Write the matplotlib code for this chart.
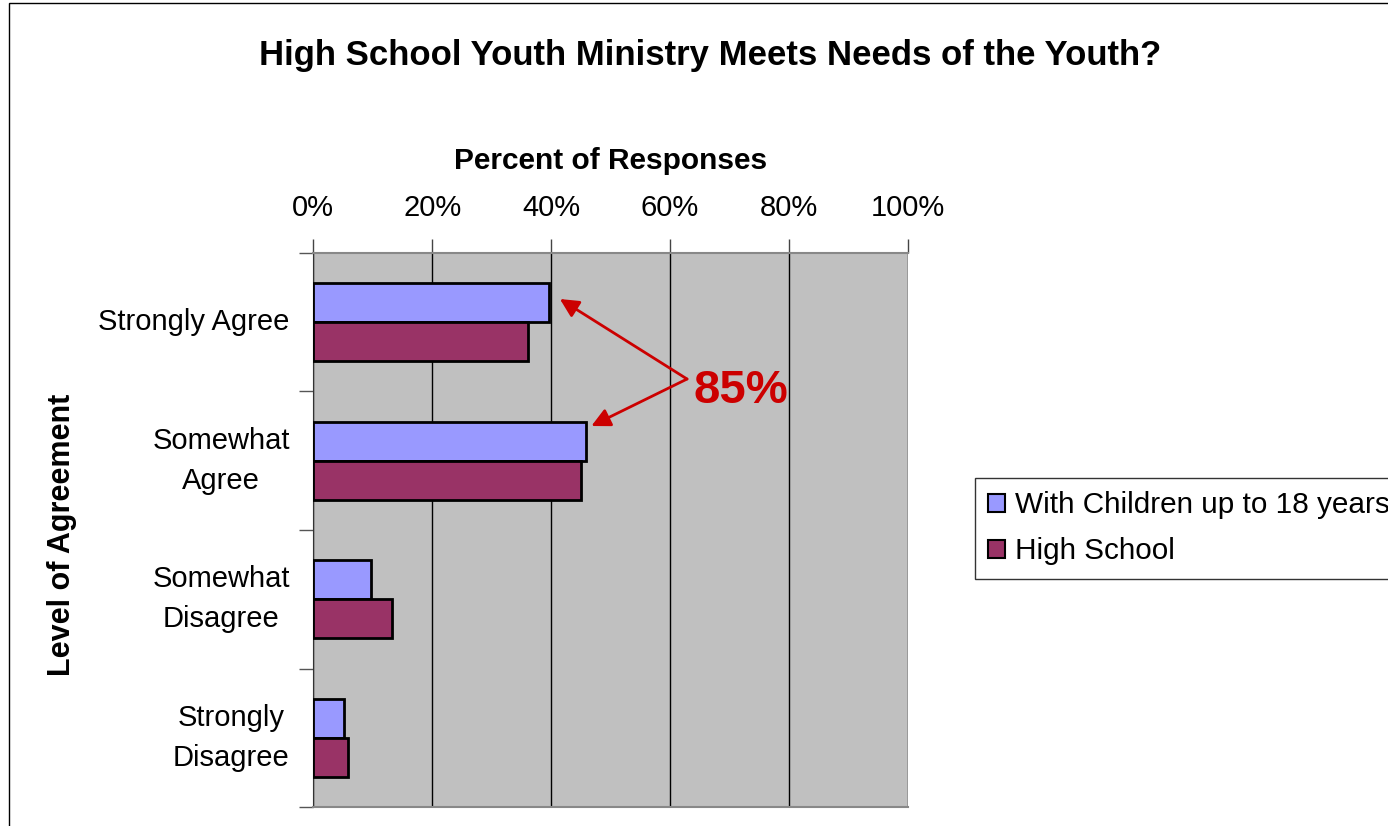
import matplotlib
matplotlib.use("Agg")
import matplotlib.pyplot as plt
import numpy as np
from matplotlib.patches import Rectangle, Patch

categories = ["Strongly Agree", "Somewhat\nAgree", "Somewhat\nDisagree", "Strongly\nDisagree"]
series_names = ["With Children up to 18 years", "High School"]
with_children = [39.7, 45.9, 9.7, 5.1]
high_school = [36.2, 45.1, 13.3, 5.9]
x_ticks = [0, 20, 40, 60, 80, 100]
x_tick_labels = ["0%", "20%", "40%", "60%", "80%", "100%"]
colors = ["#9999FF", "#993366"]

plt.rcParams['font.family'] = ['Liberation Sans', 'DejaVu Sans']

fig = plt.figure(figsize=(13.88, 8.26), dpi=100)
W, H = 1388, 826
ax = fig.add_axes([313.3 / W, 1 - 807.3 / H, (907.5 - 313.3) / W, (807.3 - 252.7) / H])
ax.set_facecolor("#C0C0C0")

y = np.arange(len(categories))
bh = 0.281
ax.barh(y - bh / 2, with_children, height=bh, color=colors[0], edgecolor="black", linewidth=2, zorder=3)
ax.barh(y + bh / 2, high_school, height=bh, color=colors[1], edgecolor="black", linewidth=2, zorder=3)

ax.set_xlim(0, 100)
ax.set_ylim(len(categories) - 0.5, -0.5)
ax.xaxis.tick_top()
ax.xaxis.set_label_position("top")
ax.set_xticks(x_ticks)
ax.set_xticklabels(x_tick_labels, fontsize=21)
ax.tick_params(axis="x", direction="out", length=10, width=1, pad=12, color="#444444")
ax.grid(axis="x", color="black", linewidth=1, zorder=1)
ax.set_xlabel("Percent of Responses", fontsize=21.5, fontweight="bold", labelpad=18)

ax.set_yticks(y)
ax.set_yticklabels(categories, fontsize=21, multialignment="center", linespacing=1.55)
for lab in ax.get_yticklabels():
    lab.set_verticalalignment("center")
ax.tick_params(axis="y", which="major", length=0, pad=17)
ax.set_yticks(np.arange(-0.5, len(categories) + 0.5, 1), minor=True)
ax.tick_params(axis="y", which="minor", direction="out", length=10, width=1, color="#555555")

ax.spines["left"].set_color("#333333")
for s in ["top", "bottom"]:
    ax.spines[s].set_color("#888888")
    ax.spines[s].set_linewidth(1.5)
ax.spines["right"].set_visible(False)

ax.set_ylabel("Level of Agreement", fontsize=22, fontweight="bold")
ax.yaxis.set_label_coords((77 - 313.3) / (907.5 - 313.3), (807.3 - 535) / (807.3 - 252.7))

# annotation
red = "#CC0000"
jx, jy = 62.9, 0.411
for tx, ty in [(41.5, -0.166), (46.8, 0.750)]:
    ax.annotate("", xy=(tx, ty), xytext=(jx, jy),
                arrowprops=dict(arrowstyle="-|>", color=red, lw=2, mutation_scale=28, shrinkA=0, shrinkB=0),
                zorder=5)
ax.text(64.0, 0.50, "85%", color=red, fontsize=34, fontweight="bold", ha="left", va="center", zorder=5)

fig.suptitle("High School Youth Ministry Meets Needs of the Youth?", x=710 / W, y=1 - 55 / H,
             fontsize=25, fontweight="bold", va="center")

handles = [Patch(facecolor=colors[0], edgecolor="black", linewidth=1.5),
           Patch(facecolor=colors[1], edgecolor="black", linewidth=1.5)]
leg = fig.legend(handles, series_names, loc="upper left", bbox_to_anchor=(975 / W, 1 - 478 / H),
                 fontsize=21.4, frameon=True, fancybox=False, edgecolor="black",
                 handlelength=0.55, handleheight=0.55, handletextpad=0.35, labelspacing=0.6,
                 borderpad=0.45, borderaxespad=0)
leg.get_frame().set_linewidth(1)

fig.patches.append(Rectangle((9 / W, -0.1), 1.2, 1.1 - 3 / H, transform=fig.transFigure,
                             fill=False, edgecolor="black", linewidth=1))

fig.savefig("out.png", dpi=100)
